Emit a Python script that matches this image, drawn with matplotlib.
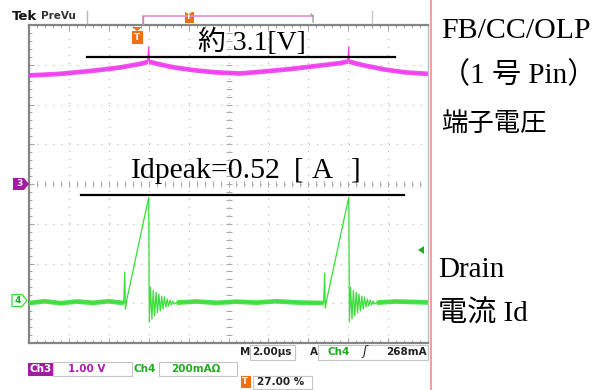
import numpy as np
import matplotlib.pyplot as plt
from matplotlib.patches import Rectangle, Polygon

plt.rcParams['lines.scale_dashes'] = False

# scope settings
t_div = 2.0        # us/div
v_div = 1.0        # Ch3 V/div
i_div = 0.2        # Ch4 A/div
trig_pos = 0.27    # 27.00 %
ch4_pos = -2.97    # Ch4 ground marker (div)
trig_level = 0.268 # A

# Ch3 : FB/CC/OLP pin voltage [V] vs time [us]
ch3_t = [-5.41, -3.86, -2.36, -0.85, 0.15, 0.55, 0.60, 0.63, 0.75, 1.15,
         1.90, 2.91, 3.91, 5.16, 6.17, 7.67, 9.17, 10.18, 10.58, 10.63,
         10.65, 10.78, 11.43, 12.43, 13.43, 14.59]
ch3_v = [2.73, 2.77, 2.84, 2.93, 3.02, 3.07, 3.45, 3.07, 3.06, 3.01,
         2.93, 2.86, 2.81, 2.78, 2.82, 2.89, 2.98, 3.04, 3.08, 3.45,
         3.08, 3.06, 2.98, 2.88, 2.81, 2.77]

# Ch4 : drain current [A] vs time [us]
ch4_t = [-5.41, -4.6, -3.8, -3.0, -2.2, -1.4, -0.65, -0.60, -0.57, -0.50,
         0.60, 0.63, 0.69, 0.76, 0.83, 0.90, 0.97, 1.04, 1.11, 1.18,
         1.25, 1.32, 1.39, 1.46, 1.53, 1.60, 1.67, 1.74, 1.81, 1.88,
         2.00, 3.0, 4.0, 5.0, 6.0, 7.0, 8.0, 9.37, 9.42, 9.45,
         9.52, 10.63, 10.66, 10.72, 10.79, 10.86, 10.93, 11.00, 11.07, 11.14,
         11.21, 11.28, 11.35, 11.42, 11.49, 11.56, 11.63, 11.70, 11.77, 11.84,
         11.91, 12.03, 13.0, 14.59]
ch4_i = [-0.005, 0.004, -0.006, 0.003, -0.004, 0.004, -0.005, 0.151, -0.035, 0.010,
         0.528, -0.100, 0.075, -0.086, 0.060, -0.070, 0.050, -0.055, 0.040, -0.045,
         0.030, -0.035, 0.025, -0.025, 0.015, -0.020, 0.010, -0.015, 0.005, -0.010,
         -0.003, 0.003, -0.004, 0.002, -0.003, 0.004, -0.002, -0.005, 0.146, -0.030,
         0.010, 0.528, -0.100, 0.075, -0.086, 0.060, -0.070, 0.050, -0.055, 0.040,
         -0.045, 0.030, -0.035, 0.025, -0.025, 0.015, -0.020, 0.010, -0.015, 0.005,
         -0.010, -0.003, 0.003, -0.002]

magenta = '#f03cf0'
green = '#3ade3a'
grid_c = '#b4b4b4'
serif = ['Liberation Serif', 'Noto Sans CJK JP']

fig = plt.figure(figsize=(6.01, 3.90), dpi=100)
W, H = 601, 390

# graticule
ax = fig.add_axes([29 / W, 47 / H, 399 / W, 318 / H])
xlo = -trig_pos * 10 * t_div
xhi = (1 - trig_pos) * 10 * t_div
ax.set_xlim(xlo, xhi)
ax.set_ylim(-4 * v_div, 4 * v_div)
xmaj = np.linspace(xlo, xhi, 11)
ymaj = np.linspace(-4 * v_div, 4 * v_div, 9)
ax.set_xticks(xmaj)
ax.set_yticks(ymaj)
ax.set_xticks(np.linspace(xlo, xhi, 51), minor=True)
ax.set_yticks(np.linspace(-4 * v_div, 4 * v_div, 41), minor=True)
ax.tick_params(which='both', direction='in', top=True, right=True,
               labelbottom=False, labelleft=False, color='#a0a0a0', width=0.7)
ax.tick_params(which='major', length=3.5)
ax.tick_params(which='minor', length=2.5)
for s in ['left', 'bottom', 'top']:
    ax.spines[s].set_color('#858585')
    ax.spines[s].set_linewidth(1.6)
ax.spines['right'].set_color('#bdbdbd')
ax.spines['right'].set_linewidth(1.0)

for x in xmaj[1:-1]:
    ax.axvline(x, color=grid_c, lw=0.8, ls=(0, (0.75, 5.0)), zorder=1)
for y in ymaj[1:-1]:
    ax.axhline(y, color=grid_c, lw=0.8, ls=(0, (0.75, 5.0)), zorder=1)
xc = xmaj[5]
ax.plot(np.linspace(xlo, xhi, 51), np.zeros(51), ls='none', marker='|',
        ms=4, mew=0.7, color='#a8a8a8', zorder=1)
ax.plot(np.full(41, xc), np.linspace(-4, 4, 41), ls='none', marker='_',
        ms=4, mew=0.7, color='#a8a8a8', zorder=1)

# Ch3 trace
ax.plot(ch3_t, ch3_v, color=magenta, lw=0.9, zorder=3)
ax.plot(ch3_t, np.ma.masked_greater(ch3_v, 3.2), color=magenta, lw=3.4,
        alpha=0.9, solid_capstyle='butt', zorder=3)

# Ch4 trace on its own scale
ax2 = ax.twinx()
ax2.set_ylim((-4 - ch4_pos) * i_div, (4 - ch4_pos) * i_div)
ax2.set_yticks([])
for s in ax2.spines.values():
    s.set_visible(False)
i_arr = np.array(ch4_i)
ax2.plot(ch4_t, ch4_i, color=green, lw=0.9, zorder=3)
ax2.plot(ch4_t, np.ma.masked_where(np.abs(i_arr) > 0.008, i_arr), color=green,
         lw=3.4, alpha=0.9, solid_capstyle='butt', zorder=3)

# overlay in pixel units for the screen furniture
ov = fig.add_axes([0, 0, 1, 1], zorder=5)
ov.set_xlim(0, W)
ov.set_ylim(H, 0)
ov.axis('off')


def box(x0, y0, x1, y1, fc='none', ec='#c4c4c4', lw=0.8):
    ov.add_patch(Rectangle((x0, y0), x1 - x0, y1 - y0, fc=fc, ec=ec, lw=lw))


# top bar
ov.text(12, 16, 'Tek', fontsize=9.5, fontweight='bold', va='center', color='#111111')
ov.text(41, 16, 'PreVu', fontsize=7.5, fontweight='bold', va='center', color='#333333')
ov.plot([87, 87], [11, 23], color='#b8b8b8', lw=1)
ov.plot([143, 143, 313], [24, 15.5, 15.5], color='#e08ae0', lw=1.2)
ov.plot([143, 143], [15.5, 24], color='#a0a0a0', lw=1)
ov.plot([311, 313, 313], [14, 16, 22], color='#a0a0a0', lw=1)
ov.plot([372, 372], [11, 23], color='#c8c8c8', lw=1)
box(184.5, 11.5, 192.5, 21.5, fc='#f07010', ec='#f07010')
ov.text(188.5, 16.5, 'T', fontsize=5.5, fontweight='bold', color='white', ha='center', va='center')

# trigger position marker
ov.add_patch(Polygon([[132, 27], [142, 27], [137, 31]], closed=True, fc='#f07010', ec='none'))
box(132, 31, 142, 43, fc='#f07010', ec='#f07010')
ov.text(137, 37.5, 'T', fontsize=6.5, fontweight='bold', color='white', ha='center', va='center')

# channel ground markers
ov.add_patch(Polygon([[13, 178], [24, 178], [29, 184], [24, 190], [13, 190]],
                     closed=True, fc='#a21ca2', ec='none'))
ov.text(19.5, 184, '3', fontsize=6.5, fontweight='bold', color='white', ha='center', va='center')
ov.add_patch(Polygon([[12, 294.5], [22, 294.5], [27, 300.5], [22, 306.5], [12, 306.5]],
                     closed=True, fc='white', ec=green, lw=0.9))
ov.text(18, 300.5, '4', fontsize=6.5, fontweight='bold', color='#22aa22', ha='center', va='center')
# trigger level marker
ov.add_patch(Polygon([[418, 250], [424, 246], [424, 254]], closed=True, fc='#22aa22', ec='none'))

# annotations
ov.plot([87, 395], [57, 57], color='black', lw=1.6)
ov.plot([81, 404], [194.5, 194.5], color='black', lw=1.6)
ov.text(198, 50, '約 3.1[V]', fontsize=20, family=serif, va='baseline')
ov.text(131, 178, 'Idpeak=0.52', fontsize=21.5, family=serif, va='baseline')
ov.text(294, 178, '[', fontsize=21, family=serif, va='baseline')
ov.text(312, 178, 'A', fontsize=21, family=serif, va='baseline')
ov.text(351, 178, ']', fontsize=21, family=serif, va='baseline')

# right side labels
ov.plot([430.5, 430.5], [0, H], color='#f08c8c', lw=1.2)
ov.text(441, 38, 'FB/CC/OLP', fontsize=21.5, family=serif, va='baseline')
ov.text(441, 83, '（1 号 Pin）', fontsize=21, family=serif, va='baseline')
ov.text(441, 131, '端子電圧', fontsize=19, family=serif, va='baseline')
ov.text(438, 277, 'Drain', fontsize=21, family=serif, va='baseline')
ov.text(438, 322, '電流 Id', fontsize=21, family=serif, va='baseline')

# status line
sfont = dict(fontsize=7.5, fontweight='bold', va='center')
ov.text(240, 352, 'M', color='#222222', **sfont)
box(250, 344.5, 295, 360)
ov.text(252, 352, '2.00µs', color='#222222', **sfont)
ov.text(310, 352, 'A', color='#222222', **sfont)
box(318, 344.5, 428, 360)
ov.text(328, 352, 'Ch4', color='#22aa22', **sfont)
ov.text(362, 352, 'ʃ', color='#222222', fontsize=9, va='center', style='italic')
ov.text(386, 352, '268mA', color='#222222', **sfont)

box(28, 363, 53, 375, fc='#a21ca2', ec='#a21ca2')
ov.text(40.5, 369, 'Ch3', color='white', ha='center', **sfont)
box(53, 362, 132, 376)
ov.text(68, 369, '1.00 V', color='#b01cb0', **sfont)
ov.text(133, 369, 'Ch4', color='#22aa22', **sfont)
box(159, 362, 237, 376)
ov.text(171, 369, '200mAΩ', color='#22aa22', **sfont)

box(240.5, 376, 250, 387, fc='#f07010', ec='#f07010')
ov.text(245.2, 381.7, 'T', fontsize=6, fontweight='bold', color='white', ha='center', va='center')
box(253, 375.5, 312, 389)
ov.text(257, 382, '27.00 %', color='#222222', **sfont)

fig.savefig('out.png', dpi=100)
